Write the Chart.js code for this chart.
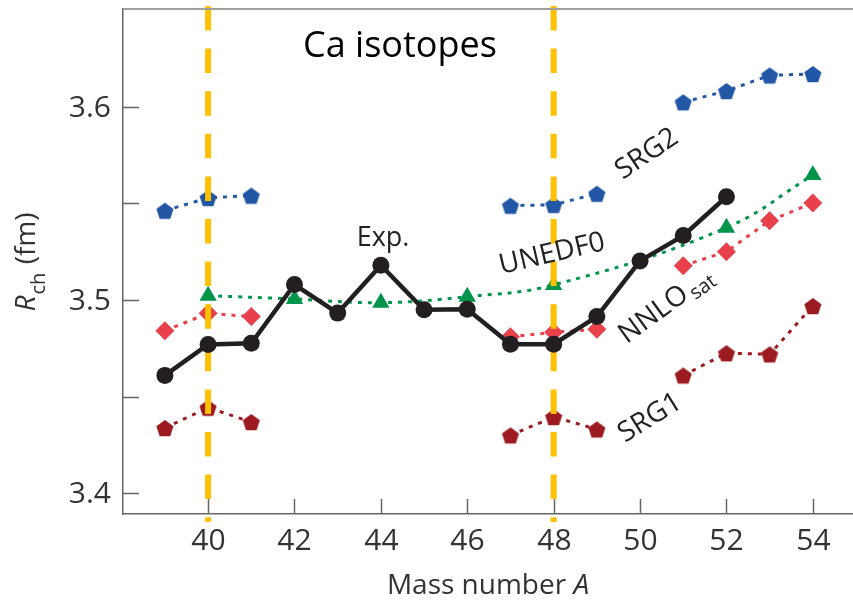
<!DOCTYPE html>
<html>
<head>
<meta charset="utf-8">
<script src="https://cdn.jsdelivr.net/npm/chart.js"></script>
<style>
html, body { margin: 0; padding: 0; background: #fff; }
canvas { display: block; }
</style>
</head>
<body>
<canvas id="chart" width="853" height="601"></canvas>
<script>
// mass numbers and charge radii (fm)
let masses  = [39, 40, 41, 42, 43, 44, 45, 46, 47, 48, 49, 50, 51, 52, 53, 54];
let expR    = [3.461, 3.477, 3.4776, 3.508, 3.4932, 3.518, 3.4949, 3.4952, 3.4771, 3.4771, 3.4914, 3.5202, 3.5333, 3.5534, null, null];
let srg2    = [3.5462, 3.5528, 3.554, null, null, null, null, null, 3.5488, 3.5492, 3.555, null, 3.6023, 3.6081, 3.6162, 3.6169];
let unedf0  = [null, 3.5022, null, 3.5005, null, 3.4986, null, 3.5017, null, 3.5078, null, null, null, 3.5374, null, 3.5646];
let nnlosat = [3.4841, 3.4931, 3.4914, null, null, null, null, null, 3.481, 3.4833, 3.4848, null, 3.5177, 3.525, 3.541, 3.5502];
let srg1    = [3.4338, 3.4443, 3.4369, null, null, null, null, null, 3.43, 3.4395, 3.4331, null, 3.461, 3.4725, 3.4719, 3.4969];
let magic   = [40, 48];

Chart.defaults.font.family = "'Open Sans', sans-serif";

function pts(vals) {
  return masses.map((m, i) => ({ x: m, y: vals[i] }));
}

function pentagon(color, r) {
  let c = document.createElement('canvas');
  let s = Math.ceil(r * 2) + 2;
  c.width = s; c.height = s;
  let g = c.getContext('2d');
  g.fillStyle = color;
  g.beginPath();
  for (let k = 0; k < 5; k++) {
    let a = -Math.PI / 2 + k * 2 * Math.PI / 5;
    g.lineTo(s / 2 + r * Math.cos(a), s / 2 + 1 + r * Math.sin(a));
  }
  g.closePath();
  g.fill();
  return c;
}

let blue = '#2257a5', green = '#00954a', red = '#e8414b', darkRed = '#9c1b21', black = '#231f20';

let decor = {
  id: 'decor',
  beforeDatasetDraw(chart, args) {
    if (args.index !== 0) return;
    let ctx = chart.ctx, x = chart.scales.x;
    ctx.save();
    ctx.strokeStyle = '#ffc000';
    ctx.lineWidth = 6;
    ctx.setLineDash([24.5, 18.1]);
    magic.forEach(v => {
      let px = x.getPixelForValue(v);
      ctx.beginPath();
      ctx.moveTo(px, 6);
      ctx.lineTo(px, 522);
      ctx.stroke();
    });
    ctx.restore();
  },
  afterDraw(chart) {
    let ctx = chart.ctx, a = chart.chartArea, x = chart.scales.x, y = chart.scales.y;
    ctx.save();
    // frame top
    ctx.strokeStyle = '#a0a0a0';
    ctx.lineWidth = 2;
    ctx.beginPath(); ctx.moveTo(a.left, a.top); ctx.lineTo(a.right, a.top); ctx.stroke();
    // inward ticks + labels
    ctx.strokeStyle = '#666';
    ctx.lineWidth = 1.5;
    ctx.fillStyle = '#333';
    ctx.font = "30px 'Open Sans'";
    ctx.textBaseline = 'middle';
    y.ticks.forEach(t => {
      let py = Math.round(y.getPixelForValue(t.value)) + 0.5;
      ctx.beginPath(); ctx.moveTo(a.left, py); ctx.lineTo(a.left + 16, py); ctx.stroke();
      let lab = y.options.ticks.callback(t.value);
      ctx.textAlign = 'right';
      if (lab) ctx.fillText(lab, a.left - 12, py + 1);
    });
    x.ticks.forEach(t => {
      let px = Math.round(x.getPixelForValue(t.value)) + 0.5;
      ctx.beginPath(); ctx.moveTo(px, a.bottom); ctx.lineTo(px, a.bottom - 15); ctx.stroke();
      ctx.textAlign = 'center';
      ctx.fillText(String(t.value), px, a.bottom + 27);
    });

    // axis titles
    ctx.textBaseline = 'alphabetic';
    ctx.font = "28px 'Open Sans'";
    let t1 = 'Mass number ';
    let w1 = ctx.measureText(t1).width;
    ctx.font = "italic 28px 'Open Sans'";
    let w2 = ctx.measureText('A').width;
    let sx = (a.left + a.right) / 2 - (w1 + w2) / 2;
    ctx.font = "28px 'Open Sans'";
    ctx.textAlign = 'left';
    ctx.fillText(t1, sx, 594);
    ctx.font = "italic 28px 'Open Sans'";
    ctx.fillText('A', sx + w1, 594);

    ctx.save();
    ctx.translate(35, 262);
    ctx.rotate(-Math.PI / 2);
    ctx.font = "italic 28px 'Open Sans'";
    let rw = ctx.measureText('R').width;
    ctx.font = "20px 'Open Sans'";
    let cw = ctx.measureText('ch').width;
    ctx.font = "28px 'Open Sans'";
    let fw = ctx.measureText(' (fm)').width;
    let tot = rw + cw + fw + 2;
    let p = -tot / 2;
    ctx.font = "italic 28px 'Open Sans'";
    ctx.fillText('R', p, 0); p += rw + 1;
    ctx.font = "20px 'Open Sans'";
    ctx.fillText('ch', p, 10); p += cw + 1;
    ctx.font = "28px 'Open Sans'";
    ctx.fillText(' (fm)', p, 0);
    ctx.restore();

    // labels
    ctx.textAlign = 'center';
    ctx.fillStyle = '#000';
    ctx.font = "36px 'Open Sans'";
    ctx.fillText('Ca isotopes', 400, 57);

    ctx.fillStyle = '#222';
    ctx.textBaseline = 'middle';
    ctx.font = "27px 'Open Sans'";
    ctx.fillText('Exp.', 383, 238);

    let rotLabel = (txt, cx, cy, deg) => {
      ctx.save();
      ctx.translate(cx, cy);
      ctx.rotate(deg * Math.PI / 180);
      ctx.fillText(txt, 0, 0);
      ctx.restore();
    };
    ctx.font = "28px 'Open Sans'";
    rotLabel('SRG2', 647, 154, -34);
    rotLabel('UNEDF0', 552, 254, -13);
    rotLabel('SRG1', 650, 418, -32);

    ctx.save();
    ctx.translate(665, 304);
    ctx.rotate(-36 * Math.PI / 180);
    ctx.textAlign = 'left';
    ctx.textBaseline = 'alphabetic';
    ctx.font = "28px 'Open Sans'";
    let nw = ctx.measureText('NNLO').width;
    ctx.font = "20px 'Open Sans'";
    let sw = ctx.measureText('sat').width;
    let st = -(nw + sw + 3) / 2;
    ctx.font = "28px 'Open Sans'";
    ctx.fillText('NNLO', st, 10);
    ctx.font = "20px 'Open Sans'";
    ctx.fillText('sat', st + nw + 3, 15);
    ctx.restore();

    ctx.restore();
  }
};

let dotted = [4, 6];

new Chart(document.getElementById('chart').getContext('2d'), {
  type: 'line',
  data: {
    datasets: [
      {
        label: 'Exp.',
        data: pts(expR),
        borderColor: black,
        backgroundColor: black,
        borderWidth: 4.5,
        pointStyle: 'circle',
        pointRadius: 8.5,
        pointBorderWidth: 0,
        tension: 0
      },
      {
        label: 'UNEDF0',
        data: pts(unedf0),
        borderColor: green,
        backgroundColor: green,
        borderWidth: 3,
        borderDash: dotted,
        spanGaps: true,
        tension: 0.4,
        pointStyle: 'triangle',
        pointRadius: 10,
        pointBorderWidth: 0
      },
      {
        label: 'NNLOsat',
        data: pts(nnlosat),
        borderColor: red,
        backgroundColor: red,
        borderWidth: 3,
        borderDash: dotted,
        tension: 0,
        pointStyle: 'rectRot',
        pointRadius: 9.5,
        pointBorderWidth: 0
      },
      {
        label: 'SRG2',
        data: pts(srg2),
        borderColor: blue,
        backgroundColor: blue,
        borderWidth: 3,
        borderDash: dotted,
        tension: 0,
        pointStyle: pentagon(blue, 9),
        pointRadius: 9
      },
      {
        label: 'SRG1',
        data: pts(srg1),
        borderColor: darkRed,
        backgroundColor: darkRed,
        borderWidth: 3,
        borderDash: dotted,
        tension: 0,
        pointStyle: pentagon(darkRed, 9),
        pointRadius: 9
      }
    ]
  },
  options: {
    responsive: false,
    animation: false,
    layout: { autoPadding: false, padding: { top: 9, right: 0, left: 0, bottom: 0 } },
    plugins: {
      legend: { display: false },
      tooltip: { enabled: false }
    },
    scales: {
      x: {
        type: 'linear',
        min: 38.03,
        max: 54.93,
        grid: { display: false },
        border: { display: true, color: '#666', width: 1.5 },
        ticks: { display: false, stepSize: 2, includeBounds: false },
        afterFit(s) { s.height = 87; s.paddingLeft = 0; s.paddingRight = 0; }
      },
      y: {
        min: 3.3893,
        max: 3.6505,
        grid: { display: false },
        border: { display: true, color: '#666', width: 1.5 },
        ticks: {
          display: false,
          stepSize: 0.05,
          includeBounds: false,
          callback: v => (Math.abs(v * 10 - Math.round(v * 10)) < 1e-6 ? v.toFixed(1) : '')
        },
        afterBuildTicks(s) { s.ticks = s.ticks.filter(t => t.value <= 3.6001); },
        afterFit(s) { s.width = 123; s.paddingTop = 0; s.paddingBottom = 0; }
      }
    }
  },
  plugins: [decor]
});
</script>
</body>
</html>
